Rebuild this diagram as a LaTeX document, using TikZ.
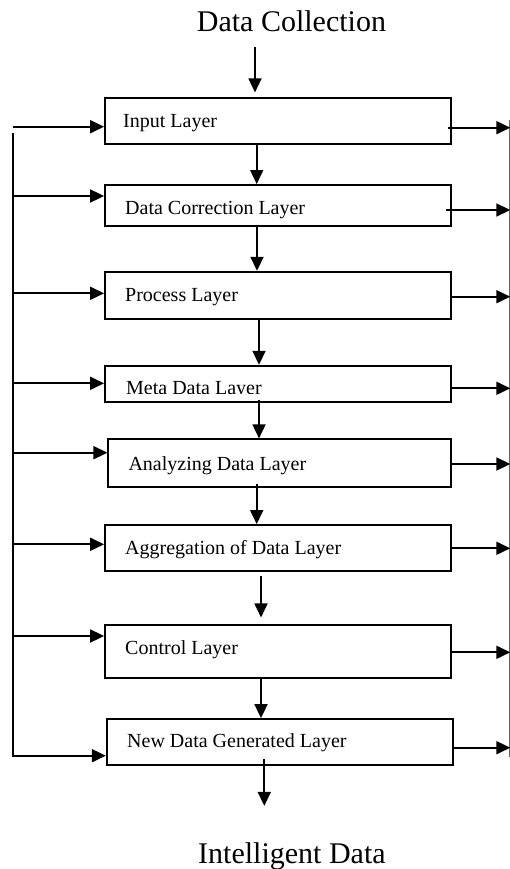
\documentclass[tikz,border=0pt]{standalone}
\usepackage{fontspec}
\setmainfont{Liberation Serif}
\usetikzlibrary{arrows.meta}
\begin{document}
\begin{tikzpicture}[x=1pt,y=-1pt,
  box/.style={draw, line width=1.8pt, inner sep=0pt, minimum width=346pt},
  lbl/.style={anchor=base west, inner sep=0pt, font=\fontsize{20}{24}\selectfont},
  ttl/.style={anchor=base west, inner sep=0pt, font=\fontsize{30}{36}\selectfont},
  arr/.style={line width=1.8pt, -{Triangle[length=14pt,width=13pt]}},
  ln/.style={line width=1.8pt}]
\useasboundingbox (0,0) rectangle (510,869);
% titles
\node[ttl] (tin) at (196.7,32) {Data Collection};
\node[ttl] (tout) at (198,863) {Intelligent Data};
% boxes
\node[box, minimum height=46pt] (b1) at (278,121.3) {};
\node[box, minimum height=40.7pt] (b2) at (278,205.3) {};
\node[box, minimum height=47.6pt] (b3) at (278,295.5) {};
\node[box, minimum height=36.6pt] (b4) at (278,384) {};
\node[box, minimum height=47.4pt, minimum width=342.7pt] (b5) at (279.7,463) {};
\node[box, minimum height=46pt] (b6) at (278,548) {};
\node[box, minimum height=53.3pt] (b7) at (278,651.7) {};
\node[box, minimum height=46pt, minimum width=346.6pt] (b8) at (280,742) {};
% labels
\node[lbl] (t1) at (123,128) {Input Layer};
\node[lbl] (t2) at (125,214) {Data Correction Layer};
\node[lbl] (t3) at (125,301) {Process Layer};
\begin{scope}
\clip (b4.north west) rectangle ([yshift=10pt]b4.south east);
\node[lbl] (t4) at (126,394) {Meta Data Layer};
\end{scope}
\node[lbl] (t5) at (128.3,470) {Analyzing Data Layer};
\node[lbl] (t6) at (125,554) {Aggregation of Data Layer};
\node[lbl] (t7) at (125,654) {Control Layer};
\node[lbl] (t8) at (127,747.3) {New Data Generated Layer};
% vertical flow arrows
\draw[arr] ([xshift=-23pt,yshift=50pt]b1.north) -- ([xshift=-23pt,yshift=5pt]b1.north);
\draw[arr] ([xshift=-21.3pt]b1.south) -- ([xshift=-21.3pt]b2.north);
\draw[arr] ([xshift=-21pt]b2.south) -- ([xshift=-21pt]b3.north);
\draw[arr] ([xshift=-19pt]b3.south) -- ([xshift=-19pt]b4.north);
\draw[arr] ([xshift=-19pt,yshift=3pt]b4.south) -- ([xshift=-20.7pt]b5.north);
\draw[arr] ([xshift=-23pt,yshift=4pt]b5.south) -- ([xshift=-21.3pt]b6.north);
\draw[arr] ([xshift=-17pt,yshift=-4pt]b6.south) -- ([xshift=-17pt,yshift=6.7pt]b7.north);
\draw[arr] ([xshift=-17pt]b7.south) -- ([xshift=-19pt]b8.north);
\draw[arr] ([xshift=-15.7pt,yshift=6.7pt]b8.south) -- ([xshift=-15.7pt,yshift=-40pt]b8.south);
% left feedback bus
\coordinate (lbtop) at (12.7,132.7);
\coordinate (e1) at ([yshift=-5.4pt]b1.west);
\coordinate (e2) at ([yshift=9.3pt]b2.west);
\coordinate (e3) at ([yshift=2.2pt]b3.west);
\coordinate (e4) at ([yshift=0.7pt]b4.west);
\coordinate (e5) at ([yshift=10.3pt]b5.west);
\coordinate (e6) at ([yshift=3.7pt]b6.west);
\coordinate (e7) at ([yshift=15.7pt]b7.west);
\coordinate (e8) at ([yshift=-13.7pt]b8.west);
\draw[ln] (lbtop) -- (e8 -| lbtop);
\draw[arr] (e1 -| lbtop) -- (e1);
\foreach \i in {2,...,7} {\draw[arr] (e\i -| lbtop) -- (e\i);}
\draw[arr] ([xshift=-0.9pt]e8 -| lbtop) -- (e8);
% right output bus
\coordinate (rbus) at (509.3,120);
\coordinate (rbend) at (509.3,757);
\draw[line width=1pt, black!60] (rbus) -- (rbend);
\coordinate (s1) at ([xshift=-4.3pt,yshift=-6.4pt]b1.east);
\coordinate (s2) at ([xshift=-6pt,yshift=-4.7pt]b2.east);
\coordinate (s3) at ([yshift=-1.2pt]b3.east);
\coordinate (s4) at ([yshift=-4.3pt]b4.east);
\coordinate (s5) at ([yshift=-1pt]b5.east);
\coordinate (s6) at ([yshift=-0.3pt]b6.east);
\coordinate (s7) at ([yshift=-0.6pt]b7.east);
\coordinate (s8) at ([yshift=-5.7pt]b8.east);
\foreach \i in {1,...,8} {\draw[arr] (s\i) -- ([xshift=1pt]s\i -| rbus);}
\end{tikzpicture}
\end{document}
